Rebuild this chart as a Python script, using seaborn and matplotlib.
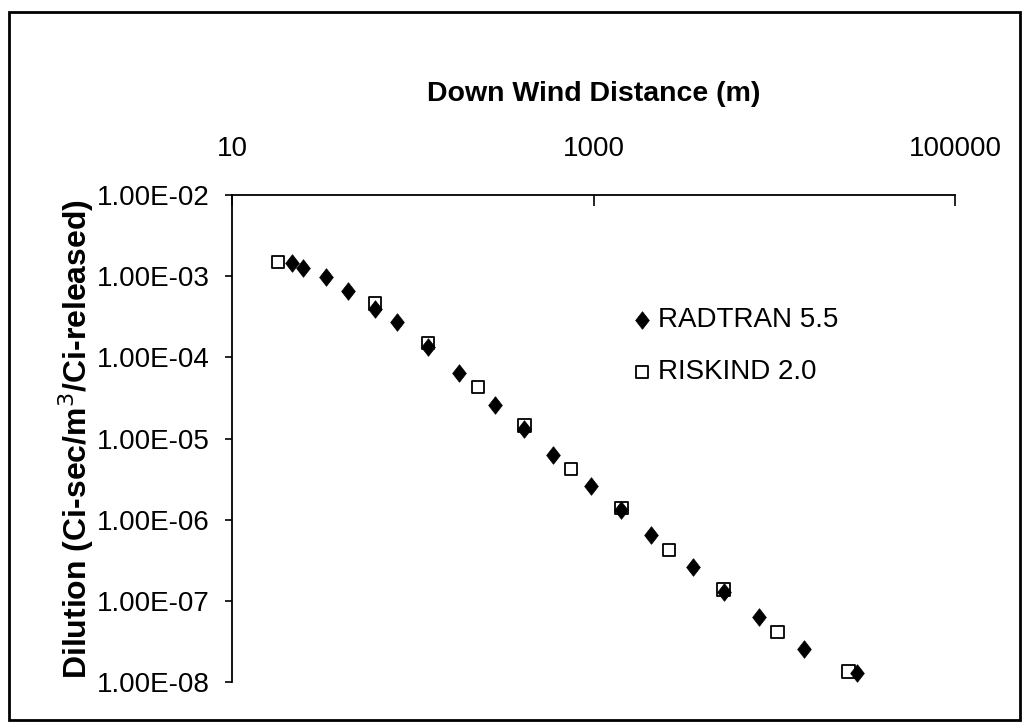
import matplotlib
matplotlib.use("Agg")
import matplotlib.pyplot as plt
import seaborn as sns
import numpy as np
from matplotlib.path import Path
from matplotlib.patches import Rectangle
from matplotlib.ticker import FixedLocator, FuncFormatter, NullLocator

# Data (distance in m, dilution in Ci-sec/m3/Ci-released)
radtran_x = [21.4, 24.8, 33, 43.7, 61.5, 81.8, 121.6, 180, 286, 414, 594, 970,
             1425, 2073, 3530, 5240, 8190, 14600, 28600]
radtran_y = [1.45e-3, 1.25e-3, 9.7e-4, 6.6e-4, 3.9e-4, 2.75e-4, 1.35e-4, 6.5e-5,
             2.6e-5, 1.3e-5, 6.3e-6, 2.63e-6, 1.3e-6, 6.4e-7, 2.6e-7, 1.28e-7,
             6.3e-8, 2.57e-8, 1.29e-8]
riskind_x = [18, 61.5, 121.6, 229, 414, 751, 1425, 2620, 5240, 10400, 25700]
riskind_y = [1.5e-3, 4.6e-4, 1.5e-4, 4.3e-5, 1.45e-5, 4.2e-6, 1.4e-6, 4.26e-7,
             1.38e-7, 4.1e-8, 1.35e-8]

x_ticks = [10, 1000, 100000]
y_ticks = [1e-8, 1e-7, 1e-6, 1e-5, 1e-4, 1e-3, 1e-2]

sns.set_style("white")
FONTS = ["Liberation Sans Narrow", "Liberation Sans", "DejaVu Sans"]
plt.rcParams["font.family"] = FONTS
plt.rcParams["text.color"] = "black"
plt.rcParams["axes.labelcolor"] = "black"
plt.rcParams["xtick.color"] = "black"
plt.rcParams["ytick.color"] = "black"

fig = plt.figure(figsize=(10.27, 7.25), dpi=100)
ax = fig.add_axes([0.226, 0.0593, 0.704, 0.6717])

# slightly tall diamond like the Excel marker
diamond = Path([(0, 1), (0.78, 0), (0, -1), (-0.78, 0), (0, 1)],
               [Path.MOVETO, Path.LINETO, Path.LINETO, Path.LINETO, Path.CLOSEPOLY])

sns.scatterplot(x=radtran_x, y=radtran_y, ax=ax, marker=diamond, s=160,
                color="black", edgecolor="black", linewidth=0.5,
                label="RADTRAN 5.5", zorder=3)
sns.scatterplot(x=riskind_x, y=riskind_y, ax=ax, marker="s", s=78,
                facecolor="none", edgecolor="black", linewidth=1.3,
                label="RISKIND 2.0", zorder=4)

ax.set_xscale("log")
ax.set_yscale("log")
ax.set_xlim(10, 100000)
ax.set_ylim(1e-8, 1e-2)

ax.xaxis.tick_top()
ax.xaxis.set_label_position("top")
ax.xaxis.set_major_locator(FixedLocator(x_ticks))
ax.xaxis.set_minor_locator(NullLocator())
ax.xaxis.set_major_formatter(FuncFormatter(lambda v, p: f"{int(round(v))}"))
ax.yaxis.set_major_locator(FixedLocator(y_ticks))
ax.yaxis.set_minor_locator(NullLocator())
ax.yaxis.set_major_formatter(FuncFormatter(lambda v, p: f"{v:.2E}"))

ax.tick_params(axis="x", direction="in", length=8, width=1.2, color="black",
               labelcolor="black", pad=24, labelsize=20, top=True, bottom=False)
ax.tick_params(axis="y", direction="out", length=5, width=1.2, color="black",
               labelcolor="black", pad=11, labelsize=20, left=True)

for side in ["right", "bottom"]:
    ax.spines[side].set_visible(False)
for side in ["top", "left"]:
    ax.spines[side].set_color("black")
    ax.spines[side].set_linewidth(1.3)

ax.set_xlabel("Down Wind Distance (m)", fontsize=20.5, fontweight="bold",
              labelpad=25, color="black")
ax.set_ylabel("Dilution (Ci-sec/m$^3$/Ci-released)", fontsize=23, color="black",
              fontweight="bold", family=["Liberation Sans", "DejaVu Sans"], labelpad=1)

leg = ax.legend(loc="center left", bbox_to_anchor=(0.552, 0.69), frameon=False,
                fontsize=20, handlelength=0.8, handletextpad=0.15,
                labelspacing=0.95, borderaxespad=0, borderpad=0)
for t in leg.get_texts():
    t.set_color("black")

# outer chart border
fig.patches.append(Rectangle((0.009, 0.007), 0.984, 0.976, transform=fig.transFigure,
                             fill=False, edgecolor="black", linewidth=2))

fig.savefig("out.png", dpi=100)
